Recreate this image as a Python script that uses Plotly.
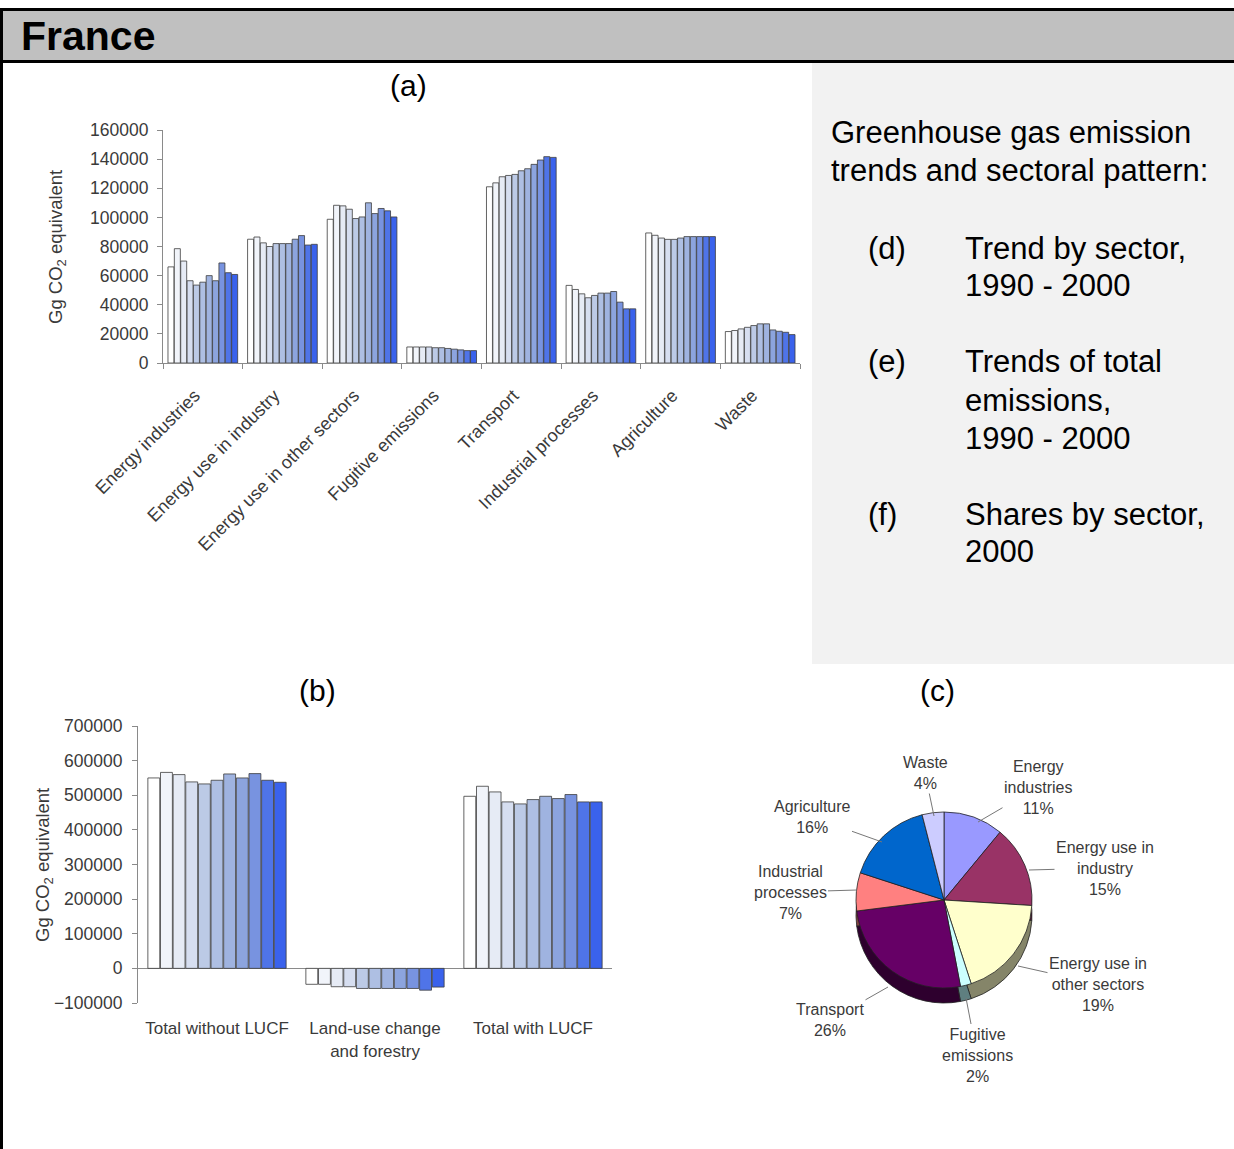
import plotly.graph_objects as go

W, H = 1234, 1149

# ---------------- data ----------------
years = list(range(1990, 2001))
sectors = ["Energy industries", "Energy use in industry", "Energy use in other sectors",
           "Fugitive emissions", "Transport", "Industrial processes", "Agriculture", "Waste"]

energy_industries = [66000, 78500, 70000, 56500, 53500, 55500, 60000, 56500, 68700, 62000, 60800]
energy_use_industry = [85000, 86500, 82500, 80000, 82000, 82000, 82000, 85000, 87500, 81000, 81500]
energy_use_other = [98700, 108300, 107900, 105600, 99200, 100300, 110000, 102600, 106100, 104500, 100300]
fugitive_emissions = [11000, 11000, 11000, 11000, 10500, 10500, 10000, 9500, 9000, 8500, 8500]
transport = [121000, 123700, 127900, 128800, 129500, 132000, 133400, 136400, 139400, 141700, 141200]
industrial_processes = [53300, 50500, 47500, 44800, 46400, 48000, 48000, 49100, 41800, 37200, 37200]
agriculture = [89300, 87700, 85800, 84900, 84900, 85800, 86800, 86800, 86800, 86800, 86800]
waste = [21600, 22300, 23400, 24500, 25700, 26900, 26900, 22700, 21800, 21100, 19500]
sector_series = [energy_industries, energy_use_industry, energy_use_other, fugitive_emissions,
                 transport, industrial_processes, agriculture, waste]

total_categories = ["Total without LUCF", "Land-use change<br>and forestry", "Total with LUCF"]
total_without_lucf = [550000, 566000, 559600, 538500, 532700, 543300, 561500, 550000, 562500, 543300, 537500]
lucf = [-46000, -46000, -53000, -53000, -58000, -58000, -58000, -58000, -58000, -63000, -54000]
total_with_lucf = [497000, 526000, 509600, 480800, 475000, 487500, 497000, 490400, 502000, 480800, 480800]

pie_labels = ["Energy industries", "Energy use in industry", "Energy use in other sectors",
              "Fugitive emissions", "Transport", "Industrial processes", "Agriculture", "Waste"]
pie_shares = [11, 15, 19, 2, 26, 7, 16, 4]

# ---------------- styles ----------------
year_colors = ["#ffffff", "#f1f4fa", "#e6ebf5", "#d6def0", "#bccae6", "#aebfe3",
               "#9fb3e0", "#8ca4de", "#7893e0", "#4f74e8", "#3a62ec"]
pie_colors = ["#9999ff", "#993366", "#ffffcc", "#ccffff", "#660066", "#ff8080", "#0066cc", "#ccccff"]
pie_side_colors = ["#4d4d80", "#4d1a33", "#858569", "#5f7f80", "#2e002e", "#804040", "#003366", "#666680"]
FONT = "Liberation Sans, Arial, sans-serif"
TXT = "#3a3a3a"


def px_x(px):
    return px / W


def px_y(py):
    return 1 - py / H


fig = go.Figure()

# chart (a)
for i, yr in enumerate(years):
    fig.add_trace(go.Bar(
        x=sectors, y=[s[i] for s in sector_series], name=str(yr),
        marker=dict(color=year_colors[i], line=dict(color="#3c3c3c", width=0.8)),
        xaxis="x", yaxis="y", showlegend=False))

# chart (b)
for i, yr in enumerate(years):
    fig.add_trace(go.Bar(
        x=total_categories, y=[total_without_lucf[i], lucf[i], total_with_lucf[i]], name=str(yr),
        marker=dict(color=year_colors[i], line=dict(color="#3c3c3c", width=0.8)),
        xaxis="x2", yaxis="y2", showlegend=False))

# chart (c): pie with a darker copy underneath for depth
pc_x, pc_y, pr, depth = 944, 900, 88, 15
fig.add_trace(go.Pie(
    labels=pie_labels, values=pie_shares, sort=False, direction="clockwise", rotation=0,
    marker=dict(colors=pie_side_colors, line=dict(color="#222222", width=0.8)),
    textinfo="none", hoverinfo="skip", showlegend=False, automargin=False,
    domain=dict(x=[px_x(pc_x - pr), px_x(pc_x + pr)],
                y=[px_y(pc_y + depth + pr), px_y(pc_y + depth - pr)])))
fig.add_trace(go.Pie(
    labels=pie_labels, values=pie_shares, sort=False, direction="clockwise", rotation=0,
    marker=dict(colors=pie_colors, line=dict(color="#222222", width=0.8)),
    textinfo="none", showlegend=False, automargin=False,
    domain=dict(x=[px_x(pc_x - pr), px_x(pc_x + pr)],
                y=[px_y(pc_y + pr), px_y(pc_y - pr)])))

axis_font = dict(family=FONT, size=17.5, color=TXT)

fig.update_layout(
    width=W, height=H, margin=dict(l=0, r=0, t=0, b=0, pad=0, autoexpand=False),
    paper_bgcolor="white", plot_bgcolor="rgba(0,0,0,0)",
    barmode="group", bargap=0.12, bargroupgap=0.06,
    xaxis=dict(domain=[px_x(163), px_x(800)], anchor="y", tickangle=-45, automargin=False,
               showline=True, linecolor="#8a8a8a", linewidth=1,
               ticks="outside", tickson="boundaries", ticklen=5, tickcolor="#8a8a8a",
               ticklabelstandoff=14, ticklabelshift=-8,
               tickfont=dict(family=FONT, size=18, color=TXT), showgrid=False),
    yaxis=dict(domain=[px_y(363), px_y(130)], anchor="x", range=[0, 160000], automargin=False,
               dtick=20000, tickformat="d", showline=True, linecolor="#8a8a8a", linewidth=1,
               ticks="outside", ticklen=5, tickcolor="#8a8a8a", tickfont=axis_font,
               ticklabelstandoff=5, showgrid=False, zeroline=False),
    xaxis2=dict(domain=[px_x(138), px_x(612)], anchor="y2", showline=False, automargin=False,
                ticks="outside", ticklen=10, tickcolor="rgba(0,0,0,0)",
                tickfont=dict(family=FONT, size=17, color=TXT), showgrid=False),
    yaxis2=dict(domain=[px_y(1003), px_y(726)], anchor="x2", range=[-100000, 700000],
                automargin=False,
                dtick=100000, tickformat="d", showline=True, linecolor="#8a8a8a", linewidth=1,
                ticks="outside", ticklen=5, tickcolor="#8a8a8a", tickfont=axis_font,
                ticklabelstandoff=6,
                showgrid=False, zeroline=True, zerolinecolor="#8a8a8a", zerolinewidth=1),
)

shapes = [
    dict(type="rect", xref="paper", yref="paper", x0=0, x1=1, y0=px_y(62), y1=px_y(9),
         fillcolor="#c0c0c0", line=dict(width=0), layer="below"),
    dict(type="rect", xref="paper", yref="paper", x0=px_x(812), x1=1, y0=px_y(664), y1=px_y(63),
         fillcolor="#f2f2f2", line=dict(width=0), layer="below"),
    dict(type="line", xref="paper", yref="paper", x0=0, x1=1, y0=px_y(9.5), y1=px_y(9.5),
         line=dict(color="black", width=3)),
    dict(type="line", xref="paper", yref="paper", x0=0, x1=1, y0=px_y(61.5), y1=px_y(61.5),
         line=dict(color="black", width=3)),
    dict(type="line", xref="paper", yref="paper", x0=px_x(1.5), x1=px_x(1.5), y0=0, y1=px_y(8),
         line=dict(color="black", width=3)),
]
fig.update_layout(shapes=shapes)

ann = []


def text(t, x, y, size, xanchor="left", bold=False, color="black"):
    ann.append(dict(text=("<b>%s</b>" % t) if bold else t, x=px_x(x), y=px_y(y),
                    xref="paper", yref="paper", xanchor=xanchor, yanchor="middle",
                    showarrow=False, font=dict(family=FONT, size=size, color=color)))


text("France", 19, 36, 41, bold=True)
text("(a)", 408, 86, 30, xanchor="center")
text("(b)", 318, 690, 30, xanchor="center")
text("(c)", 938, 690, 30, xanchor="center")

right_lines = [
    ("Greenhouse gas emission", 829, 133),
    ("trends and sectoral pattern:", 829, 171),
    ("(d)", 866, 248), ("Trend by sector,", 963, 248), ("1990 - 2000", 963, 285),
    ("(e)", 866, 362), ("Trends of total", 963, 362), ("emissions,", 963, 400),
    ("1990 - 2000", 963, 438),
    ("(f)", 866, 514), ("Shares by sector,", 963, 514), ("2000", 963, 551),
]
for t, x, y in right_lines:
    text(t, x, y, 31)

for (x, y) in [(57, 247), (44, 865)]:
    ann.append(dict(text="Gg CO<sub>2</sub> equivalent", x=px_x(x), y=px_y(y), xref="paper",
                    yref="paper", textangle=-90, showarrow=False, xanchor="center", yanchor="middle",
                    font=dict(family=FONT, size=18.5, color=TXT)))

# pie labels: (label text, text centre, pointer point)
pie_label_pos = [
    ("Energy<br>industries<br>11%", (1038, 787), (978, 822)),
    ("Energy use in<br>industry<br>15%", (1105, 868), (1029, 870)),
    ("Energy use in<br>other sectors<br>19%", (1098, 984), (1018, 966)),
    ("Fugitive<br>emissions<br>2%", (977, 1055), (966, 998)),
    ("Transport<br>26%", (830, 1020), (888, 987)),
    ("Industrial<br>processes<br>7%", (790, 892), (857, 890)),
    ("Agriculture<br>16%", (812, 817), (882, 842)),
    ("Waste<br>4%", (925, 773), (934, 816)),
]
for t, (tx, ty), (px, py) in pie_label_pos:
    ann.append(dict(text=t, x=px_x(px), y=px_y(py), xref="paper", yref="paper",
                    ax=tx - px, ay=ty - py, axref="pixel", ayref="pixel",
                    showarrow=True, arrowhead=0, arrowwidth=1, arrowcolor="#777777",
                    standoff=0, font=dict(family=FONT, size=16, color=TXT)))

fig.update_layout(annotations=ann)

fig.write_html("out.html", config={"displayModeBar": False},
               post_script="document.body.style.margin='0';")
